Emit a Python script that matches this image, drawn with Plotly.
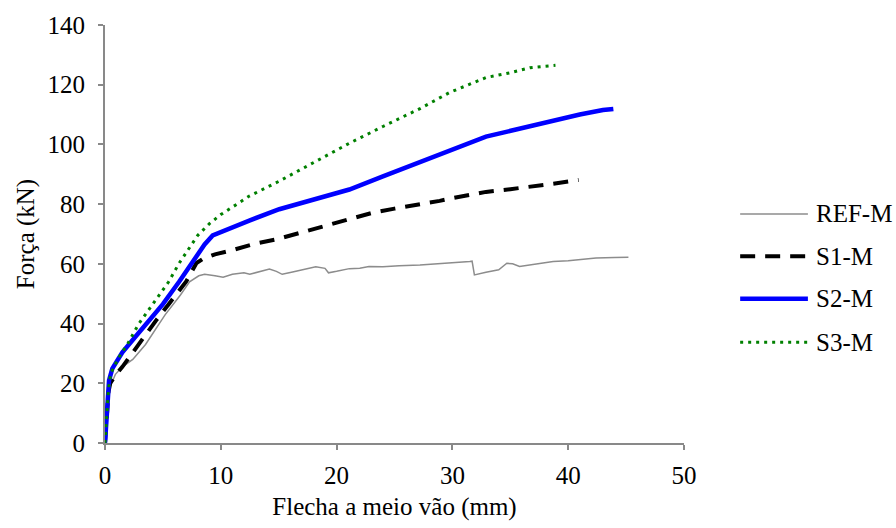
import plotly.graph_objects as go

# curvas forca x flecha
ref_x = [0, 0.05, 0.1, 0.2, 0.3, 0.5, 0.9, 1.5, 2.4, 3.5, 5.2, 6.5, 7.3, 8.1, 8.6, 9.5,
         10.2, 11, 12, 12.5, 13.5, 14.2, 14.8, 15.3, 16.2, 17, 18.2, 19, 19.3, 20, 21.1,
         22, 22.8, 24, 25.4, 27.2, 29.8, 31.5, 31.7, 31.9, 32.9, 34, 34.7, 35.2, 35.8,
         37, 38.7, 40, 42.4, 44, 45.2]
ref_y = [0, 5, 10, 15, 17.5, 19.5, 23, 25.5, 28, 33, 43, 49.5, 54, 56, 56.5, 56,
         55.5, 56.5, 57, 56.5, 57.5, 58.3, 57.5, 56.5, 57.3, 58, 59, 58.5, 57, 57.5, 58.4,
         58.5, 59.1, 59, 59.4, 59.6, 60.2, 60.8, 60.9, 56.3, 57.2, 58, 60.2, 60, 59.1,
         59.8, 60.8, 61, 62, 62.1, 62.2]

s1_x = [0, 0.05, 0.12, 0.2, 0.3, 0.45, 0.9, 1.5, 2.4, 3.3, 4.4, 5.5, 6.3, 7.0, 7.5, 7.9,
        8.5, 9.5, 11, 13, 15, 17, 19, 21, 23, 25, 27.2, 28.9, 30, 32.9, 35, 37.3, 39, 40.9]
s1_y = [0, 3, 8, 13, 17, 20, 22.7, 25.5, 30.4, 35, 41, 46.5, 50.5, 54, 57.5, 60.3,
        61.8, 63.2, 64.6, 66.8, 68.4, 70.5, 72.8, 75, 77, 78.5, 79.8, 81.1, 82, 84.1, 85, 86, 87, 88.1]

s2_x = [0, 0.05, 0.12, 0.2, 0.3, 0.35, 0.63, 1.0, 1.5, 2.5, 3.8, 5.0, 6.4, 7.2, 8.0, 8.6,
        9.3, 10.5, 12.46, 15.05, 18, 21.1, 24, 27.2, 29.76, 32.9, 35.5, 38.7, 41, 43, 43.9]
s2_y = [0, 3, 8, 12, 16, 21, 24.9, 27, 30.4, 35, 40.9, 46.5, 54, 58.5, 63, 66.5,
        69.5, 71.5, 74.5, 78.3, 81.5, 84.9, 89.3, 94.2, 98.1, 102.6, 105, 108.1, 110, 111.5, 111.9]

s3_x = [0, 0.05, 0.12, 0.2, 0.3, 0.5, 1.2, 2.0, 2.9, 3.5, 4.5, 5.5, 6.4, 7.2, 8.0, 9.0,
        10, 11.6, 12.46, 15.05, 18, 21.1, 24, 27.2, 29.76, 32.9, 35, 36.7, 38, 38.9]
s3_y = [0, 3, 8, 13, 18, 23.4, 28.7, 33.5, 39.8, 43.1, 48.5, 54, 60.2, 65, 69.5, 73.4,
        76.5, 80.5, 82.7, 87.7, 94, 100.4, 106, 112, 117.4, 122.4, 124, 125.7, 126.2, 126.5]

names = ['REF-M', 'S1-M', 'S2-M', 'S3-M']
xs = [ref_x, s1_x, s2_x, s3_x]
ys = [ref_y, s1_y, s2_y, s3_y]
styles = [dict(color='#8c8c8c', width=1.5, dash='solid'),
          dict(color='black', width=4, dash='15px,10px'),
          dict(color='#0000ff', width=4.5, dash='solid'),
          dict(color='#008000', width=3, dash='3px,5px')]

FONT = 'Liberation Serif'
AXC = '#898989'
FS = 25

fig = go.Figure()
for name, x, y, st in zip(names, xs, ys, styles):
    fig.add_trace(go.Scatter(x=x, y=y, mode='lines', name=name, line=st, showlegend=False))

# legenda desenhada a mao (linha longa como no Excel)
leg_y = [0.548, 0.447, 0.345, 0.241]
for name, st, ly in zip(names, styles, leg_y):
    fig.add_shape(type='line', xref='paper', yref='paper', x0=1.097, x1=1.214, y0=ly, y1=ly,
                  line=st)
    fig.add_annotation(xref='paper', yref='paper', x=1.224, y=ly, text=name, showarrow=False,
                       xanchor='left', yanchor='middle', font=dict(size=FS, color='black', family=FONT))

fig.update_xaxes(range=[0, 50], dtick=10, showgrid=False, zeroline=False, showline=True,
                 linecolor=AXC, linewidth=2, ticks='outside', ticklen=5, tickcolor=AXC, tickwidth=2,
                 ticklabelstandoff=4, ticklabeloverflow='allow',
                 title=dict(text='Flecha a meio vão (mm)', standoff=9,
                            font=dict(size=FS, family=FONT, color='black')),
                 tickfont=dict(size=FS, family=FONT, color='black'))
fig.update_yaxes(range=[0, 140], dtick=20, showgrid=False, zeroline=False, showline=True,
                 linecolor=AXC, linewidth=2, ticks='outside', ticklen=5, tickcolor=AXC, tickwidth=2,
                 ticklabelstandoff=8, ticklabeloverflow='allow',
                 title=dict(text='Força (kN)', standoff=6,
                            font=dict(size=FS, family=FONT, color='black')),
                 tickfont=dict(size=FS, family=FONT, color='black'))
fig.update_layout(width=896, height=528, autosize=False,
                  margin=dict(l=105, r=212, t=21, b=84),
                  plot_bgcolor='white', paper_bgcolor='white',
                  font=dict(family=FONT, size=FS, color='black'))
# tira a margem padrao do body para o grafico ocupar a janela toda
fig.write_html("out.html", config={'displayModeBar': False},
               post_script="document.body.style.margin='0';")
